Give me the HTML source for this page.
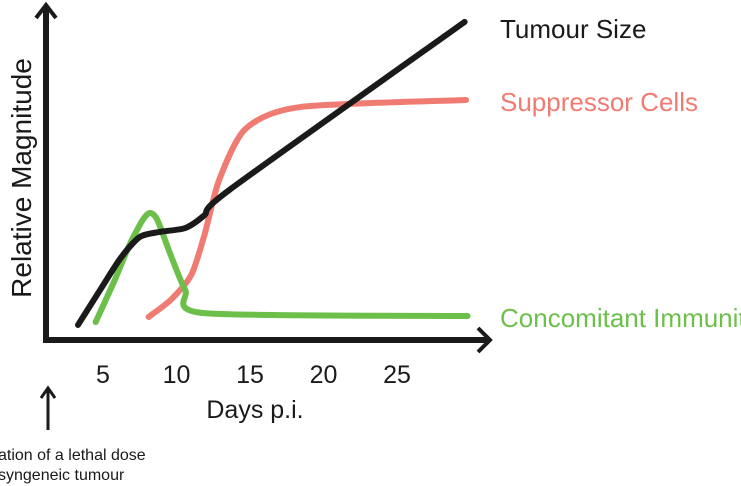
<!DOCTYPE html>
<html><head><meta charset="utf-8"><style>
html,body{margin:0;padding:0;background:#fff;overflow:hidden}
svg{display:block;font-family:"Liberation Sans",sans-serif}
</style></head><body>
<svg id="chart" width="741" height="486" viewBox="0 0 741 486">
<g id="axes">
<line x1="46" y1="6" x2="46" y2="343" stroke="#1a1a1a" stroke-width="6"/>
<polyline points="36,18 46,5 56,18" fill="none" stroke="#1a1a1a" stroke-width="4"/>
<line x1="43" y1="340" x2="488" y2="340" stroke="#1a1a1a" stroke-width="6"/>
<polyline points="478,328 490,340 478,352" fill="none" stroke="#1a1a1a" stroke-width="4"/>
</g>
<g id="ticks"></g>
<g id="series"></g>
<text x="255" y="418" font-size="25" text-anchor="middle" fill="#1a1a1a">Days p.i.</text>
<text transform="translate(31,178) rotate(-90)" font-size="28" text-anchor="middle" fill="#1a1a1a">Relative Magnitude</text>
<line x1="48" y1="430" x2="48" y2="390" stroke="#1a1a1a" stroke-width="3"/>
<polyline points="41,398 48,388 55,398" fill="none" stroke="#1a1a1a" stroke-width="3"/>
<text x="-2" y="460" font-size="16" fill="#1a1a1a">ation of a lethal dose</text>
<text x="-2" y="480" font-size="16" fill="#1a1a1a">syngeneic tumour</text>
<text x="500" y="38" font-size="26" fill="#1a1a1a">Tumour Size</text>
<text x="500" y="111" font-size="26" fill="#f07b72">Suppressor Cells</text>
<text x="500" y="327" font-size="26" fill="#6cc04a">Concomitant Immunity</text>
</svg>
<script>
const tickDays=[5,10,15,20,25];
const tickLabels=["5","10","15","20","25"];
const tumourDays=[3.3,4.8,6.2,7.5,8.9,10.6,11.9,13.6,29.6];
const tumourMag=[4.7,15.6,25.6,32.2,33.8,35,39,46.9,99.4];
const suppDays=[8.1,9.6,11.0,11.9,12.9,14.7,18.4,29.7];
const suppMag=[7.2,12.5,20.3,32.8,50,66,72.8,75];
const immDays=[4.5,5.8,6.8,7.7,8.2,8.7,9.6,10.6,11.9,29.8];
const immMag=[5.6,18.75,29.7,37.5,39.7,37.5,26.6,15.6,8.4,7.5];
const xs=d=>29.5+14.7*d;
const ys=m=>340-3.2*m;
const NS="http://www.w3.org/2000/svg";
const tg=document.getElementById('ticks');
tickDays.forEach((d,i)=>{
 const t=document.createElementNS(NS,'text');
 t.setAttribute('x',xs(d));t.setAttribute('y',383);t.setAttribute('font-size','25');
 t.setAttribute('text-anchor','middle');t.setAttribute('fill','#1a1a1a');
 
 
 t.textContent=tickLabels[i];tg.appendChild(t);
});
function path(dx,my){
 const p=dx.map((d,i)=>[xs(d),ys(my[i])]);
 const k=8;
 let s='M'+p[0][0]+','+p[0][1];
 for(let i=0;i<p.length-1;i++){
  const p0=p[i-1]||p[i],p1=p[i],p2=p[i+1],p3=p[i+2]||p2;
  s+=' C'+(p1[0]+(p2[0]-p0[0])/k)+','+(p1[1]+(p2[1]-p0[1])/k)+' '+(p2[0]-(p3[0]-p1[0])/k)+','+(p2[1]-(p3[1]-p1[1])/k)+' '+p2[0]+','+p2[1];
 }
 return s;
}
const sg=document.getElementById('series');
[[suppDays,suppMag,'#f07b72','suppressor-cells-line'],[immDays,immMag,'#6cc04a','concomitant-immunity-line'],[tumourDays,tumourMag,'#1a1a1a','tumour-size-line']].forEach(s=>{
 const e=document.createElementNS(NS,'path');
 e.setAttribute('d',path(s[0],s[1]));e.setAttribute('fill','none');
 e.setAttribute('stroke',s[2]);e.setAttribute('stroke-width','6');e.setAttribute('stroke-linecap','round');e.setAttribute('stroke-linejoin','round');
 
 
 sg.appendChild(e);
});
</script>
</body></html>
